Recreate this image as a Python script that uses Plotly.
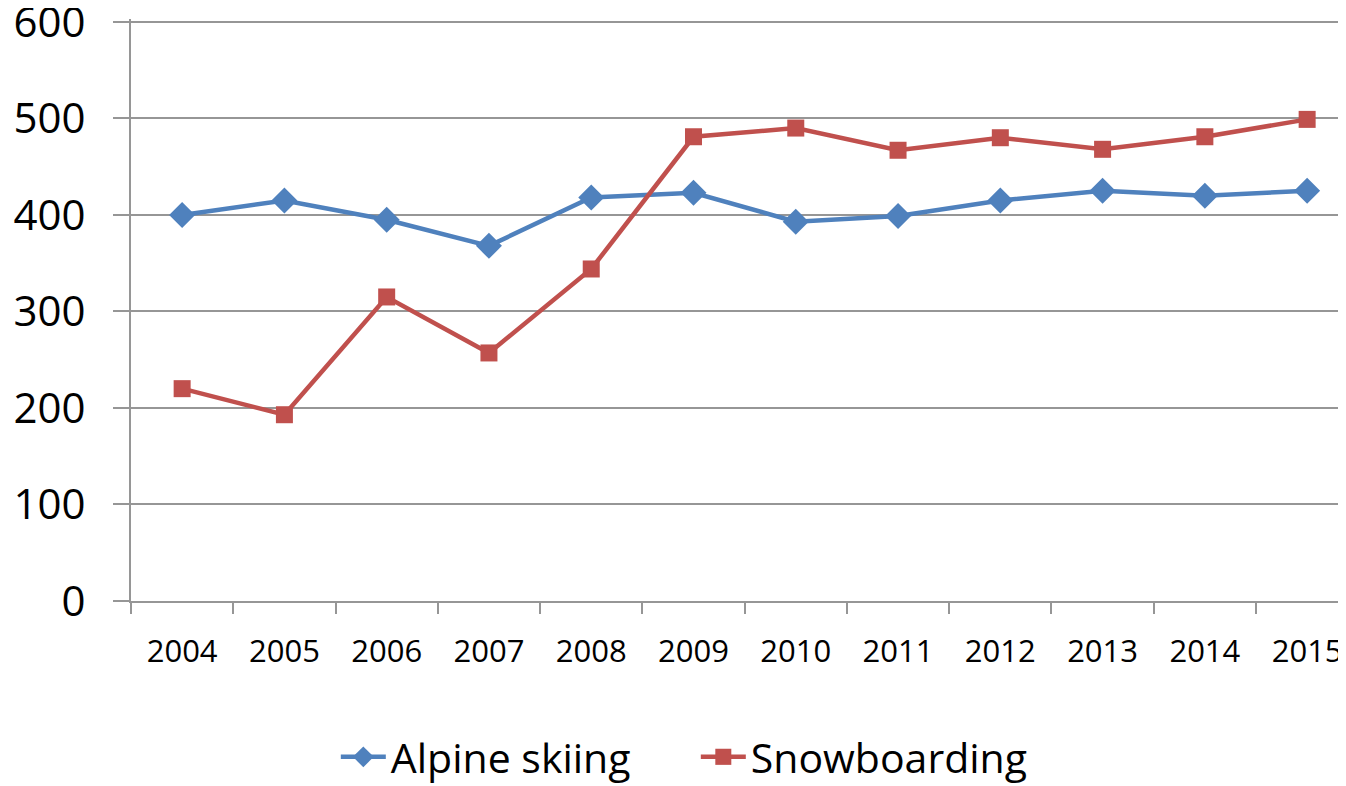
import plotly.graph_objects as go

years = ["2004", "2005", "2006", "2007", "2008", "2009", "2010", "2011", "2012", "2013", "2014", "2015"]
alpine_skiing = [400, 415, 395, 368, 418, 423, 393, 399, 415, 425, 420, 425]
snowboarding = [220, 193, 315, 257, 344, 481, 490, 467, 480, 468, 481, 499]
y_ticks = [0, 100, 200, 300, 400, 500, 600]

BLUE = "#4F81BD"
RED = "#C0504D"
GRID = "#969696"
FONT = "Open Sans, sans-serif"

fig = go.Figure()
fig.add_trace(go.Scatter(
    x=years, y=alpine_skiing, name="Alpine skiing", mode="lines+markers",
    line=dict(color=BLUE, width=4.5),
    marker=dict(symbol="diamond", size=20, color=BLUE),
))
fig.add_trace(go.Scatter(
    x=years, y=snowboarding, name="Snowboarding", mode="lines+markers",
    line=dict(color=RED, width=4.5),
    marker=dict(symbol="square", size=17, color=RED),
))

# the page body adds an 8px offset, so the figure is 8px smaller than the window
fig.update_layout(
    width=1338, height=778,
    paper_bgcolor="white", plot_bgcolor="white",
    margin=dict(l=123, r=0, t=11, b=185),
    font=dict(family=FONT, color="black"),
    legend=dict(
        orientation="h", xref="container", x=0.245, xanchor="left",
        yref="container", y=0.037, yanchor="middle",
        font=dict(size=41), itemwidth=45, entrywidth=300,
    ),
    xaxis=dict(
        type="category", range=[-0.5, 11.38], automargin=False,
        showgrid=False, showline=True, linecolor=GRID, linewidth=2,
        ticks="outside", tickson="boundaries", ticklen=11, tickcolor=GRID, tickwidth=2,
        tickfont=dict(size=31), ticklabelstandoff=22,
    ),
    yaxis=dict(
        range=[0, 603], tickvals=y_ticks, automargin=False,
        showgrid=True, gridcolor=GRID, gridwidth=2, zeroline=False,
        showline=True, linecolor=GRID, linewidth=2,
        ticks="outside", ticklen=16, tickcolor=GRID, tickwidth=2,
        tickfont=dict(size=42), ticklabelstandoff=19, ticklabeloverflow="allow",
    ),
)

fig.write_html("out.html")
